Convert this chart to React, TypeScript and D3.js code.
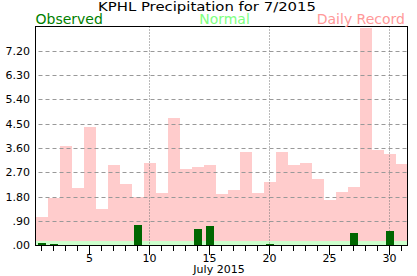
import React from "react";
import * as d3 from "d3";

const days: number[] = d3.range(1, 32);
const observed: number[] = [0.11, 0.04, 0, 0.03, 0, 0, 0, 0, 0.77, 0, 0, 0, 0, 0.6, 0.71, 0, 0, 0, 0, 0.05, 0, 0, 0, 0, 0, 0, 0.48, 0, 0, 0.53, 0];
const normal: number[] = [0.16, 0.16, 0.16, 0.16, 0.16, 0.16, 0.16, 0.16, 0.16, 0.16, 0.17, 0.18, 0.18, 0.17, 0.17, 0.18, 0.18, 0.18, 0.16, 0.16, 0.16, 0.16, 0.16, 0.16, 0.16, 0.18, 0.16, 0.16, 0.16, 0.16, 0.16];
const record: number[] = [1.07, 1.74, 3.69, 2.11, 4.38, 1.36, 2.98, 2.28, 1.8, 3.03, 1.95, 4.72, 2.83, 2.91, 2.98, 1.91, 2.06, 3.46, 1.95, 2.36, 3.46, 2.98, 3.05, 2.47, 1.69, 1.99, 2.17, 8.02, 3.53, 3.39, 3.02];
const yTicks: number[] = [0, 0.9, 1.8, 2.7, 3.6, 4.5, 5.4, 6.3, 7.2];
const yTickLabels: string[] = [".00", ".90", "1.80", "2.70", "3.60", "4.50", "5.40", "6.30", "7.20"];
const xMajor: number[] = [5, 10, 15, 20, 25, 30];
const xDotted: number[] = [10, 20, 30];
const title = "KPHL Precipitation for 7/2015";
const xTitle = "July 2015";

const W = 417, H = 276;
const L = 35.5, R = 407.5, T = 26.5, B = 245.5;

export default function App() {
  const x = d3.scaleLinear().domain([0.5, 31.5]).range([L, R]);
  const y = d3.scaleLinear().domain([0, 8.09]).range([B, T]);
  const font = "'DejaVu Sans', Verdana, sans-serif";
  const slot = x(1.5) - x(0.5);
  return (
    <svg width={W} height={H} style={{ position: "absolute", left: 0, top: 0, background: "#fff" }} fontFamily={font}>
      <rect x={0} y={0} width={W} height={H} fill="#fff" />
      <defs>
        <clipPath id="plot">
          <rect x={L} y={T} width={R - L} height={B - T} />
        </clipPath>
      </defs>
      <g clipPath="url(#plot)" shapeRendering="crispEdges">
        {days.map((d, i) => (
          <rect key={"r" + d} x={x(d - 0.5)} width={slot} y={y(record[i])} height={B - y(record[i])} fill="#ffcccc" />
        ))}
        {days.map((d, i) => (
          <rect key={"n" + d} x={x(d - 0.5)} width={slot} y={y(normal[i])} height={B - y(normal[i])} fill="#ccffcc" />
        ))}
      </g>
      {yTicks.slice(1).map((t) => (
        <line key={"g" + t} x1={L + 3} x2={R} y1={Math.round(y(t)) + 0.5} y2={Math.round(y(t)) + 0.5} stroke="#999" strokeDasharray="4,3" />
      ))}
      {xDotted.map((d) => (
        <line key={"v" + d} x1={x(d)} x2={x(d)} y1={T} y2={B} stroke="#777" strokeDasharray="1,2" />
      ))}
      <g shapeRendering="crispEdges">
        {days.map((d, i) =>
          observed[i] > 0 ? (
            <rect key={"o" + d} x={x(d) - 4} width={8} y={y(observed[i])} height={B - y(observed[i])} fill="#006600" />
          ) : null
        )}
      </g>
      <rect x={L} y={T} width={R - L} height={B - T} fill="none" stroke="#000" strokeWidth={1} shapeRendering="crispEdges" />
      {days.map((d) => (
        <line key={"t" + d} x1={x(d)} x2={x(d)} y1={B} y2={B + (xMajor.includes(d) ? 9 : 5)} stroke="#000" shapeRendering="crispEdges" />
      ))}
      {xMajor.map((d) => (
        <text key={"xl" + d} x={x(d)} y={262} fontSize={11} textAnchor="middle" fill="#000">{d}</text>
      ))}
      {yTicks.map((t, i) => (
        <text key={"yl" + t} x={30} y={y(t)} dy="0.36em" fontSize={11} textAnchor="end" fill="#000">{yTickLabels[i]}</text>
      ))}
      <text x={219} y={272.5} fontSize={11} textAnchor="middle" fill="#000">{xTitle}</text>
      <text x={207} y={11} fontSize={12.5} textAnchor="middle" fill="#000" textLength={218} lengthAdjust="spacingAndGlyphs">{title}</text>
      <text x={35.5} y={23.5} fontSize={14} fill="#008000">Observed</text>
      <text x={224.5} y={23.5} fontSize={14} textAnchor="middle" fill="#80ff80">Normal</text>
      <text x={405} y={23.5} fontSize={14} textAnchor="end" fill="#ff9999">Daily Record</text>
    </svg>
  );
}
